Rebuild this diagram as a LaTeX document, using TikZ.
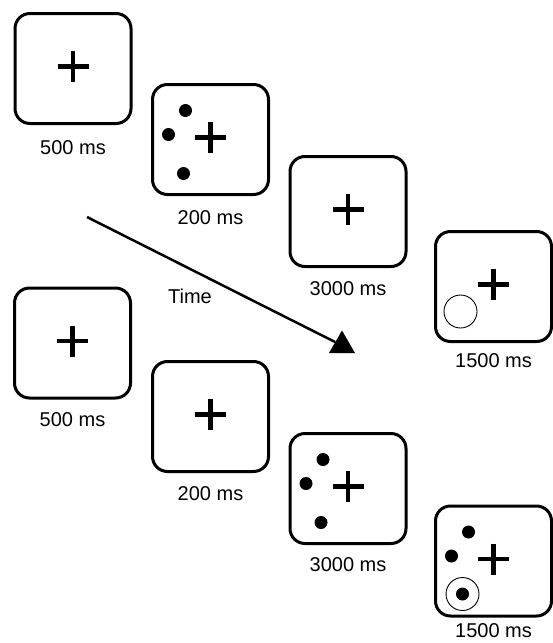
\documentclass[tikz,border=0pt]{standalone}
\usepackage{fontspec}
\setmainfont{Liberation Sans}
\usetikzlibrary{positioning,shapes.geometric}

\begin{document}
\begin{tikzpicture}[x=1pt, y=-1pt, node distance=13pt]
\tikzstyle{screen} = [rectangle, draw, line width=3pt, rounded corners=15pt,
  minimum width=116pt, minimum height=110pt]
\tikzstyle{dur} = [font=\fontsize{20}{24}\selectfont, inner sep=0pt]
\tikzstyle{fix} = [line width=4.3pt]
\tikzstyle{dot} = [circle, fill=black, inner sep=0pt, minimum size=13pt]
\tikzstyle{ring} = [circle, draw, line width=0.9pt, inner sep=0pt, minimum size=33pt]
\tikzstyle{head} = [regular polygon, regular polygon sides=3, fill=black,
  inner sep=0pt, minimum size=30pt]

\useasboundingbox (0,0) rectangle (553,643);

    \node [screen] (s1) at (73,68.5) {};
    \node [screen] (s2) at (210.5,139.5) {};
    \node [screen] (s3) at (348,211.5) {};
    \node [screen] (s4) at (493.5,286.5) {};
    \node [screen] (s5) at (72.5,343) {};
    \node [screen] (s6) at (210.5,416.5) {};
    \node [screen] (s7) at (348,488.5) {};
    \node [screen] (s8) at (493.5,561) {};

    \node [dur, below=15pt of s1] (t1) {500 ms};
    \node [dur, below=14pt of s2] (t2) {200 ms};
    \node [dur, below=13pt of s3] (t3) {3000 ms};
    \node [dur, below=10pt of s4] (t4) {1500 ms};
    \node [dur, below=13pt of s5] (t5) {500 ms};
    \node [dur, below=13pt of s6] (t6) {200 ms};
    \node [dur, below=12pt of s7] (t7) {3000 ms};
    \node [dur, below=6pt of s8] (t8) {1500 ms};

    \foreach \s in {s1,s2,s3,s4,s5,s6,s7,s8} {
      \draw [fix] (\s.center) ++(-15.5,-2) -- ++(31,0);
      \draw [fix] (\s.center) ++(0,-17.5) -- ++(0,31);
    }
    \foreach \s in {s2,s7,s8} {
      \node [dot] at ([shift={(-25,-29)}]\s.center) {};
      \node [dot] at ([shift={(-42,-5)}]\s.center) {};
    }
    \foreach \s in {s2,s7}
      \node [dot] at ([shift={(-27,34)}]\s.center) {};
    \node [ring] (r4) at ([shift={(-33,25)}]s4.center) {};
    \node [ring] (r8) at ([shift={(-31,33)}]s8.center) {};
    \node [dot] at (r8) {};

    \coordinate (tstart) at (87,217);
    \node [head] (tip) at (342,345.5) {};
    \path [draw, line width=2.5pt] (tstart) -- (tip);
    \node [dur] (time) at (190,296) {Time};
\end{tikzpicture}
\end{document}
